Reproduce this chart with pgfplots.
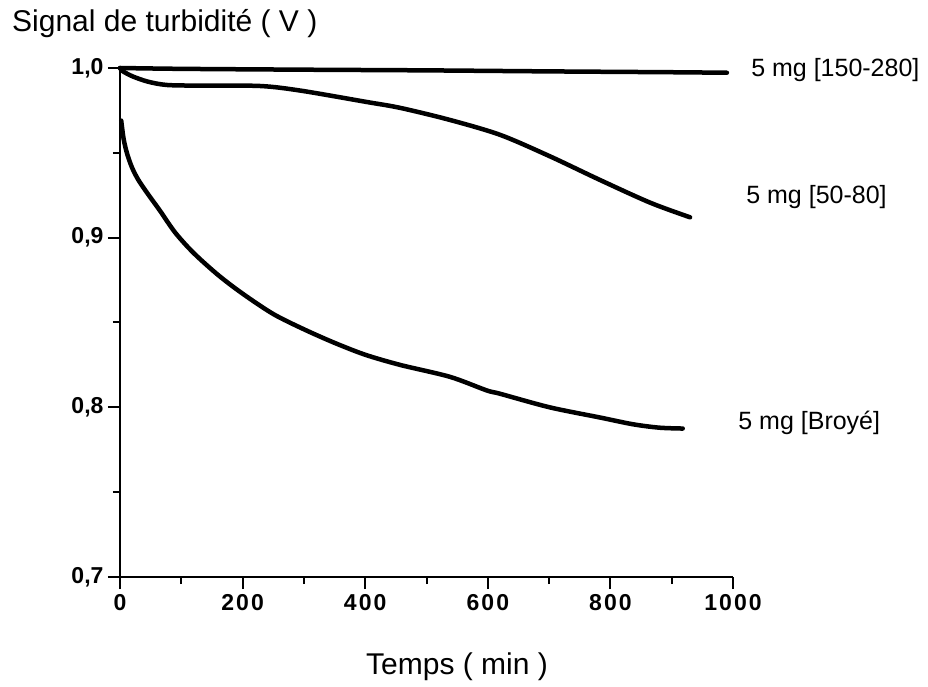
\documentclass[border=0pt]{standalone}
\usepackage{pgfplots}
\pgfplotsset{compat=1.18}
\usepackage{fontspec}
\setmainfont{Liberation Sans}
\newfontfamily\widefont[LetterSpace=9]{Liberation Sans}

\begin{document}
\begin{tikzpicture}
% page = reference size, 1pt per pixel
\path[use as bounding box] (-120pt,-110pt) rectangle (808pt,577pt);
\begin{axis}[
  scale only axis,
  width=613pt, height=509pt,
  xmin=0, xmax=1000, ymin=0.7, ymax=1.0,
  axis x line*=bottom, axis y line*=left,
  x axis line style={-}, y axis line style={-},
  axis line style={line width=2.5pt},
  clip=false,
  xtick={0,200,...,1000},
  xticklabels={0,200,400,600,800,1000},
  minor xtick={100,300,...,900},
  ytick={0.7,0.8,0.9,1.0},
  yticklabels={{0,7},{0,8},{0,9},{1,0}},
  minor ytick={0.75,0.85,0.95},
  tick align=outside,
  major tick length=12pt, minor tick length=7pt,
  tick style={line width=2pt, black},
  xticklabel style={font=\widefont\fontsize{23}{23}\selectfont\bfseries, yshift=-2pt},
  yticklabel style={font=\fontsize{23}{23}\selectfont\bfseries, xshift=-1pt},
  curve/.style={line width=4.5pt, line join=round, line cap=round, black, smooth, no markers},
]
% 5 mg [150-280]
\addplot[curve] coordinates {
  (0,1.0) (100,0.9995) (300,0.999) (500,0.9986) (700,0.998) (900,0.9975) (990,0.9972)
};
% 5 mg [50-80]
\addplot[curve] coordinates {
  (0,1.0) (5,0.998) (21,0.995) (45,0.992) (76,0.990) (130,0.9896) (228,0.9894)
  (294,0.9867) (402,0.980) (457,0.9765) (538,0.9694) (620,0.9606) (701,0.948)
  (783,0.934) (865,0.9206) (930,0.912)
};
% 5 mg [Broye]
\addplot[curve] coordinates {
  (2,0.969) (6,0.958) (12,0.949) (20,0.941) (30,0.934) (45,0.926) (65,0.916)
  (90,0.903) (120,0.891) (160,0.878) (200,0.867) (250,0.855) (300,0.846)
  (350,0.838) (400,0.831) (457,0.825) (538,0.818) (598,0.810) (620,0.808)
  (701,0.800) (783,0.794) (837,0.790) (880,0.788) (918,0.7875)
};
\node[anchor=west, font=\fontsize{25}{25}\selectfont] at (axis cs:1024,0.9988) {5 mg [150-280]};
\node[anchor=west, font=\fontsize{25}{25}\selectfont] at (axis cs:1016,0.924) {5 mg [50-80]};
\node[anchor=west, font=\fontsize{25}{25}\selectfont] at (axis cs:1003,0.7906) {5 mg [Broyé]};
\end{axis}
\node[anchor=base west, font=\fontsize{30}{30}\selectfont, inner sep=0pt] at (-108pt,545pt) {Signal de turbidité ( V )};
\node[font=\fontsize{30}{30}\selectfont] at (337pt,-90pt) {Temps ( min )};
\end{tikzpicture}
\end{document}
